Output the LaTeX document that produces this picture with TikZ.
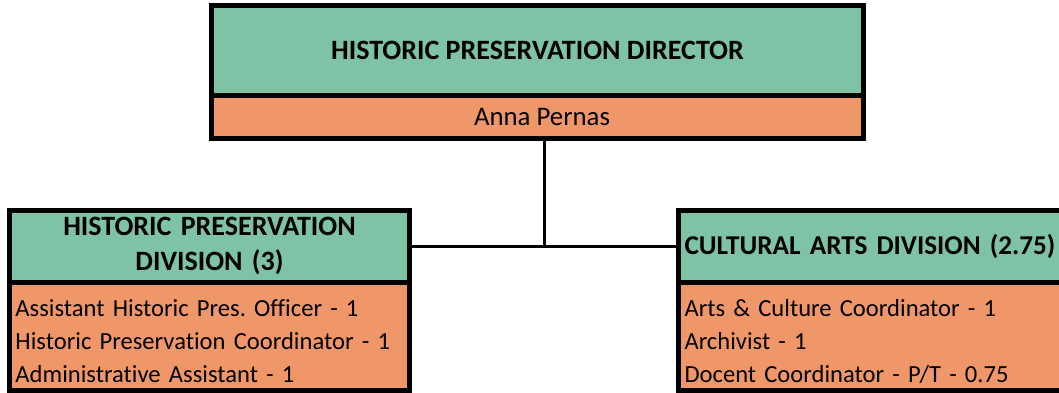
\documentclass[tikz,border=0pt]{standalone}
\usepackage{fontspec}
\setmainfont{Carlito}[Ligatures=NoCommon]
\usetikzlibrary{positioning,calc}
\definecolor{Sage}{HTML}{7FC3A7}
\definecolor{Apricot}{HTML}{EF9769}
\frenchspacing
\newcommand{\toppad}{\rule{0pt}{27pt}}

\begin{document}
\begin{tikzpicture}[x=1pt, y=-1pt, node distance=0pt,
    box/.style={draw=black, line width=5pt, inner ysep=0pt, inner xsep=6pt, outer sep=0pt},
    headbox/.style={box, fill=Sage, font=\fontsize{28}{35}\selectfont\bfseries},
    staffbox/.style={box, fill=Apricot, font=\fontsize{24.6}{33}\selectfont},
    link/.style={line width=3pt}]
  \useasboundingbox (0,0) rectangle (1059,393);
  \clip (0,0) rectangle (1059,393);
  % director
  \node[headbox, minimum width=652pt, minimum height=90pt, anchor=north west] (dirhead) at (211.5,5.5) {HISTORIC PRESERVATION DIRECTOR};
  \node[staffbox, font=\fontsize{26.8}{33}\selectfont, minimum width=652pt, minimum height=43pt, below=of dirhead] (dirname) {\hspace*{9pt}Anna Pernas};
  % divisions
  \node[headbox, text width=388pt, align=center, minimum height=71.5pt, anchor=north west] (hpdhead) at (9.5,210.5) {HISTORIC PRESERVATION\\DIVISION (3)};
  \node[staffbox, text width=388pt, align=left, minimum height=108.5pt, below=of hpdhead] (hpdstaff) {\toppad Assistant Historic Pres. Officer - 1\\Historic Preservation Coordinator - 1\\Administrative Assistant - 1};
  \node[headbox, font=\fontsize{27.2}{35}\selectfont\bfseries, text width=388pt, align=left, minimum height=71.5pt, anchor=north west] (cadhead) at (678.5,210.5) {CULTURAL ARTS DIVISION (2.75)};
  \node[staffbox, text width=388pt, align=left, minimum height=108.5pt, below=of cadhead] (cadstaff) {\toppad Arts \& Culture Coordinator - 1\\Archivist - 1\\Docent Coordinator - P/T - 0.75};
  % connectors
  \coordinate (mid) at ($(hpdhead.east)!0.5!(cadhead.west)$);
  \draw[link] (hpdhead.east) -- (cadhead.west);
  \draw[link] (dirname.south -| mid) -- (mid);
\end{tikzpicture}
\end{document}
